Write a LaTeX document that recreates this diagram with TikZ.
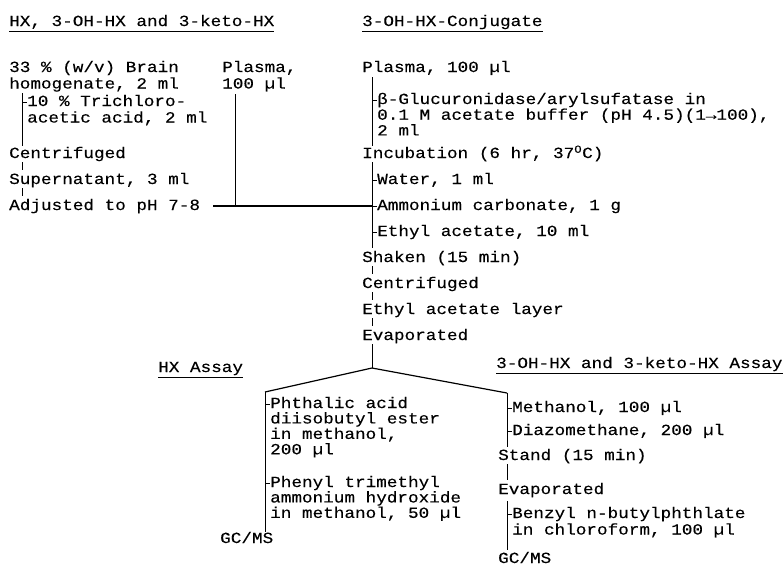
\documentclass[tikz,border=0pt]{standalone}
\usepackage{fontspec}
\usepackage{tikz}
\usetikzlibrary{calc}
\newfontfamily\typew[FakeStretch=1.14, FakeBold=0.25]{Liberation Mono}
\newcommand{\txtlines}[1]{\begin{tabular}[t]{@{}l@{}}#1\end{tabular}}
\tikzset{
  stepTxt/.style={anchor=base west, inner sep=0pt,
                  font=\typew\fontsize{15.5}{16.5}\selectfont},
  tightTxt/.style={stepTxt, font=\typew\fontsize{15.5}{14}\selectfont},
  stemLine/.style={line width=0.7pt},
  joinLine/.style={line width=1.2pt},
}

\begin{document}
\begin{tikzpicture}[x=1pt, y=-1pt]
    \useasboundingbox (0,0) rectangle (784,566);

    % headings
    \node[stepTxt] (hdBrain) at (9,26) {HX, 3-OH-HX and 3-keto-HX};
    \node[stepTxt] (hdConj) at (362,26) {3-OH-HX-Conjugate};
    \draw[stemLine] ([yshift=-5pt]hdBrain.base west) -- ([yshift=-5pt]hdBrain.base east);
    \draw[stemLine] ([yshift=-5pt]hdConj.base west) -- ([yshift=-5pt]hdConj.base east);

    % brain homogenate
    \node[stepTxt] (brain) at (9,72) {\txtlines{33 \% (w/v) Brain\\homogenate, 2 ml}};
    \node[stepTxt] (tca) at (27,106) {\txtlines{10 \% Trichloro-\\acetic acid, 2 ml}};
    \node[stepTxt] (centA) at (9,158) {Centrifuged};
    \node[stepTxt] (super) at (9,184) {Supernatant, 3 ml};
    \node[stepTxt] (adjust) at (9,210) {Adjusted to pH 7-8};
    \draw[stemLine] ([shift={(13,21)}]brain.base west) -- ([shift={(13,-12)}]centA.base west);
    \draw[stemLine] ([shift={(-5,-4)}]tca.base west) -- ([shift={(0,-4)}]tca.base west);
    \draw[stemLine] ([shift={(13,4)}]centA.base west) -- ([shift={(13,-14)}]super.base west);
    \draw[stemLine] ([shift={(13,4)}]super.base west) -- ([shift={(13,-14)}]adjust.base west);

    % plasma
    \node[stepTxt] (plasA) at (222,72) {\txtlines{Plasma,\\100 µl}};
    \draw[stemLine] ([shift={(13,22)}]plasA.base west) -- ([shift={(13,-4)}]adjust.base west -| plasA.base west);

    % conjugate
    \node[stepTxt] (plasB) at (362,72) {Plasma, 100 µl};
    \node[stepTxt, font=\typew\fontsize{15.5}{15}\selectfont] (gluc) at (377,104)
         {\txtlines{β-Glucuronidase/arylsufatase in\\0.1 M acetate buffer (pH 4.5)(1→100),\\2 ml}};
    \node[stepTxt] (incub) at (362,158) {Incubation (6 hr, 37\textsuperscript{O}C)};
    \node[stepTxt] (water) at (377,184) {Water, 1 ml};
    \node[stepTxt] (ammon) at (377,210) {Ammonium carbonate, 1 g};
    \node[stepTxt] (ethyl) at (377,236) {Ethyl acetate, 10 ml};
    \node[stepTxt] (shaken) at (362,262) {Shaken (15 min)};
    \node[stepTxt] (centB) at (362,288) {Centrifuged};
    \node[stepTxt] (layer) at (362,314) {Ethyl acetate layer};
    \node[stepTxt] (evapA) at (362,340) {Evaporated};
    \draw[stemLine] ([shift={(10,5)}]plasB.base west) -- ([shift={(10,-12)}]incub.base west);
    \draw[stemLine] ([shift={(10,4)}]incub.base west) -- ([shift={(10,-14)}]shaken.base west);
    \foreach \n in {gluc, water, ammon, ethyl}
      \draw[stemLine] ([shift={(-5,-4)}]\n.base west) -- ([shift={(0,-4)}]\n.base west);
    \foreach \a/\b in {shaken/centB, centB/layer, layer/evapA}
      \draw[stemLine] ([shift={(10,4)}]\a.base west) -- ([shift={(10,-14)}]\b.base west);
    \draw[joinLine] ([shift={(204,-4)}]adjust.base west) -- ([shift={(-5,-4)}]ammon.base west);

    % assays
    \coordinate (apex) at ([shift={(10,28)}]evapA.base west);
    \draw[stemLine] ([shift={(10,4)}]evapA.base west) -- (apex);
    \node[stepTxt] (hdHX) at (158,372) {HX Assay};
    \node[stepTxt] (hdKeto) at (496,368) {3-OH-HX and 3-keto-HX Assay};
    \draw[stemLine] ([yshift=-5pt]hdHX.base west) -- ([yshift=-5pt]hdHX.base east);
    \draw[stemLine] ([yshift=-5pt]hdKeto.base west) -- ([yshift=-5pt]hdKeto.base east);

    % HX branch
    \node[tightTxt] (phth) at (270,408) {\txtlines{Phthalic acid\\diisobutyl ester\\in methanol,\\200 µl}};
    \node[tightTxt] (phen) at (270,487) {\txtlines{Phenyl trimethyl\\ammonium hydroxide\\in methanol, 50 µl}};
    \node[stepTxt] (gcA) at (220,543) {GC/MS};
    \coordinate (hxEnd) at ([shift={(-5,45)}]phen.base west);
    \draw[joinLine] (apex) -- ([shift={(-5,-16)}]phth.base west);
    \draw[stemLine] ([shift={(-5,-16)}]phth.base west) -- (hxEnd);
    \foreach \n in {phth, phen}
      \draw[stemLine] ([shift={(-5,-4)}]\n.base west) -- ([shift={(0,-4)}]\n.base west);

    % keto branch
    \node[stepTxt] (meth) at (512,412) {Methanol, 100 µl};
    \node[stepTxt] (diazo) at (512,435) {Diazomethane, 200 µl};
    \node[stepTxt] (stand) at (498,460) {Stand (15 min)};
    \node[stepTxt] (evapB) at (498,494) {Evaporated};
    \node[stepTxt] (benz) at (512,518) {\txtlines{Benzyl n-butylphthlate\\in chloroform, 100 µl}};
    \node[stepTxt] (gcB) at (498,563) {GC/MS};
    \draw[joinLine] (apex) -- ([shift={(-5,-19)}]meth.base west);
    \draw[stemLine] ([shift={(-5,-19)}]meth.base west) -- ([shift={(9,-13)}]stand.base west);
    \foreach \n in {meth, diazo, benz}
      \draw[stemLine] ([shift={(-5,-4)}]\n.base west) -- ([shift={(0,-4)}]\n.base west);
    \draw[stemLine] ([shift={(9,4)}]stand.base west) -- ([shift={(9,-14)}]evapB.base west);
    \draw[stemLine] ([shift={(9,7)}]evapB.base west) -- ([shift={(9,-13)}]gcB.base west);
\end{tikzpicture}
\end{document}
